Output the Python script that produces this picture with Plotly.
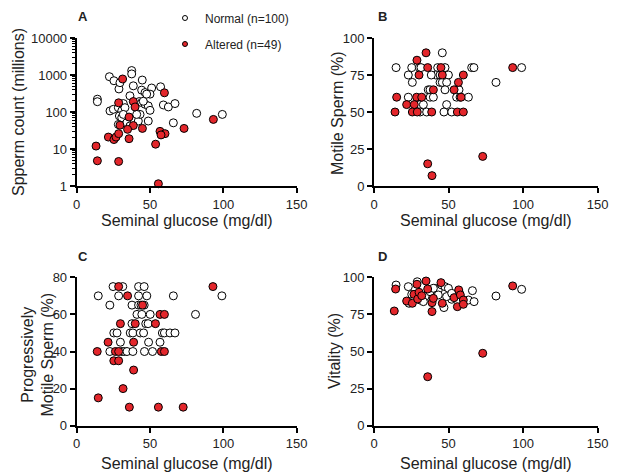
import plotly.graph_objects as go

# Panel A: sperm count (millions), log scale
a_norm_x = [22.3, 25.4, 37.5, 37.5, 44.7, 38.6, 44.3, 46.6, 51.1, 57.2, 14.1, 14.1, 22.7, 25.0,
            28.4, 30.7, 36.3, 42.7, 44.3, 46.6, 48.8, 50.0, 31.8, 32.9, 29.1, 30.7, 31.8, 28.4,
            34.1, 42.0, 48.8, 43.2, 65.9, 59.1, 62.5, 67.0, 81.8, 99.3, 36.3, 40.9, 45.4, 50.0,
            47.7, 28.8, 29.5]
a_norm_y = [900, 700, 1320, 1070, 730, 510, 390, 335, 445, 480, 222, 190, 107, 118,
            131, 107, 274, 192, 180, 162, 146, 111, 169, 131, 78, 70, 86, 46,
            51, 57, 57, 86, 51, 155, 137, 169, 92, 86, 42, 86, 195, 304,
            304, 420, 620]
a_alt_x = [31.3, 59.8, 28.6, 38.6, 39.8, 35.7, 29.5, 38.6, 34.7, 44.8, 56.8, 60.2, 73.2, 93.2,
           21.6, 25.4, 26.8, 28.6, 35.7, 53.8, 13.2, 14.1, 28.6, 55.7, 57.5]
a_alt_y = [780, 330, 177, 192, 137, 73, 44, 43, 34, 36, 30, 26, 36, 63,
           21, 18, 21, 26, 19, 13.5, 12, 4.8, 4.6, 1.15, 24]

# Panel B: motile sperm (%)
b_norm_x = [14.8, 25.3, 30.4, 31.5, 42.7, 47.6, 65.5, 67.0, 99.0, 45.8, 23.0, 41.4, 44.3, 49.9,
            25.7, 44.3, 45.8, 48.7, 81.8, 36.4, 37.6, 47.6, 57.0, 23.0, 37.6, 39.8, 55.4, 57.7,
            63.3, 30.9, 33.1, 48.7, 30.9, 35.3, 46.9, 52.1, 38.4]
b_norm_y = [80, 80, 80, 80, 80, 80, 80, 80, 80, 90, 75, 75, 75, 75,
            70, 70, 70, 70, 70, 65, 65, 65, 65, 60, 60, 60, 60, 60,
            60, 55, 55, 55, 50, 50, 50, 50, 75]
b_alt_x = [34.9, 28.8, 36.0, 44.9, 93.0, 30.2, 45.8, 59.9, 56.6, 39.8, 53.7, 15.2, 28.6, 32.0,
           58.4, 21.9, 27.0, 14.1, 25.7, 29.0, 38.7, 55.9, 59.9, 36.0, 38.9, 72.9]
b_alt_y = [90, 85, 80, 80, 80, 75, 75, 75, 70, 65, 65, 60, 60, 60,
           60, 55, 55, 50, 50, 50, 50, 50, 50, 15, 7, 20]

# Panel C: progressively motile sperm (%)
c_norm_x = [24.8, 31.4, 42.2, 46.0, 14.7, 28.6, 42.2, 47.8, 65.9, 99.0, 22.6, 37.7, 42.2, 43.8,
            46.0, 41.1, 44.4, 50.1, 81.0, 37.7, 47.1, 48.7, 25.3, 27.5, 36.5, 38.3, 43.3, 45.6,
            58.4, 59.8, 63.6, 67.0, 29.8, 49.0, 56.8, 22.6, 30.9, 32.5, 34.3, 38.3, 46.2, 51.7]
c_norm_y = [75, 75, 75, 75, 70, 70, 70, 70, 70, 70, 65, 65, 65, 65,
            65, 60, 60, 60, 60, 55, 55, 55, 50, 50, 50, 50, 50, 50,
            50, 50, 50, 50, 45, 45, 45, 40, 40, 40, 40, 40, 40, 40]
c_alt_x = [28.6, 92.9, 34.7, 44.9, 56.8, 59.8, 29.8, 39.9, 53.7, 21.4, 38.8, 14.0, 26.4, 28.6,
           57.7, 59.8, 25.3, 28.6, 38.8, 31.6, 14.7, 35.9, 55.7, 72.6]
c_alt_y = [75, 75, 70, 65, 60, 60, 55, 55, 55, 45, 45, 40, 40, 40,
           40, 40, 35, 35, 30, 20, 15, 10, 10, 10]

# Panel D: vitality (%)
d_norm_x = [14.8, 23.0, 29.0, 25.3, 27.5, 30.9, 34.2, 37.6, 40.9, 43.1, 45.4, 47.6, 49.9, 52.1,
            46.9, 48.7, 43.1, 39.8, 33.1, 23.5, 63.3, 66.0, 67.1, 81.8, 99.0, 57.0, 52.1]
d_norm_y = [94.8, 93.7, 97.0, 88.5, 85.8, 84.7, 87.0, 90.3, 92.6, 91.5, 94.8, 93.7, 92.6, 85.2,
            79.6, 87.0, 88.1, 92.6, 83.6, 82.5, 84.7, 91.0, 83.6, 87.4, 91.9, 90.3, 89.2]
d_alt_x = [13.6, 14.5, 21.9, 25.7, 26.8, 28.8, 29.3, 30.2, 32.0, 34.9, 36.0, 36.0, 38.9, 38.9,
           39.8, 44.9, 45.8, 53.7, 55.9, 56.8, 57.9, 59.9, 59.9, 72.9, 93.0]
d_alt_y = [77.3, 92.1, 84.0, 82.5, 88.5, 95.3, 85.4, 89.9, 87.6, 97.5, 92.1, 33.0, 82.9, 76.9,
           85.8, 96.4, 82.5, 86.3, 80.2, 91.5, 88.1, 84.7, 81.8, 48.8, 94.2]

RED = "#e3262b"
FONT = "Liberation Sans, Arial, sans-serif"
# the page body has an 8px margin, so the figure is made that much smaller
OFF = 8
W, H = 617 - OFF, 475 - OFF

panels = [
    ("x", "y", a_norm_x, a_norm_y, a_alt_x, a_alt_y),
    ("x2", "y2", b_norm_x, b_norm_y, b_alt_x, b_alt_y),
    ("x3", "y3", c_norm_x, c_norm_y, c_alt_x, c_alt_y),
    ("x4", "y4", d_norm_x, d_norm_y, d_alt_x, d_alt_y),
]

fig = go.Figure()
for xa, ya, nx, ny, ax, ay in panels:
    fig.add_trace(go.Scatter(
        x=nx, y=ny, xaxis=xa, yaxis=ya, mode="markers",
        marker=dict(size=8, color="white", line=dict(color="black", width=1)),
        showlegend=False, cliponaxis=False))
    fig.add_trace(go.Scatter(
        x=ax, y=ay, xaxis=xa, yaxis=ya, mode="markers",
        marker=dict(size=8, color=RED, line=dict(color="black", width=1)),
        showlegend=False, cliponaxis=False))

# legend entries use smaller symbols, like the original
fig.add_trace(go.Scatter(x=[None], y=[None], mode="markers", name="Normal (n=100)",
                         marker=dict(size=5, color="white", line=dict(color="black", width=1)),
                         legend="legend"))
fig.add_trace(go.Scatter(x=[None], y=[None], mode="markers", name="Altered (n=49)",
                         marker=dict(size=5, color=RED, line=dict(color="black", width=1)),
                         legend="legend2"))


def px2x(p):
    return (p - OFF) / W


def px2y(p):
    return 1 - (p - OFF) / H


axis_style = dict(showline=True, linecolor="black", linewidth=2, ticks="outside",
                  ticklen=5, tickwidth=2, tickcolor="black", showgrid=False,
                  zeroline=False, automargin=False,
                  tickfont=dict(size=13, color="#222", family=FONT))

xdomL = [px2x(76.7), px2x(296.7)]
xdomR = [px2x(374), px2x(597.7)]
ydomT = [px2y(186), px2y(38)]
ydomB = [px2y(425.7), px2y(277.3)]

log_minor = [m * 10 ** k for k in range(4) for m in range(2, 10)]

xticks = dict(range=[0, 150], tickvals=[0, 50, 100, 150])
fig.update_layout(
    xaxis=dict(domain=xdomL, anchor="y", **xticks, **axis_style),
    yaxis=dict(domain=ydomT, anchor="x", type="log", range=[0, 4],
               tickvals=[1, 10, 100, 1000, 10000],
               ticktext=["1", "10", "100", "1000", "10000"],
               minor=dict(tickvals=log_minor, ticks="outside", ticklen=3,
                          tickwidth=1, tickcolor="black"),
               **axis_style),
    xaxis2=dict(domain=xdomR, anchor="y2", **xticks, **axis_style),
    yaxis2=dict(domain=ydomT, anchor="x2", range=[0, 100],
                tickvals=[0, 25, 50, 75, 100], **axis_style),
    xaxis3=dict(domain=xdomL, anchor="y3", **xticks, **axis_style),
    yaxis3=dict(domain=ydomB, anchor="x3", range=[0, 80],
                tickvals=[0, 20, 40, 60, 80], **axis_style),
    xaxis4=dict(domain=xdomR, anchor="y4", **xticks, **axis_style),
    yaxis4=dict(domain=ydomB, anchor="x4", range=[0, 100],
                tickvals=[0, 25, 50, 75, 100], **axis_style),
)

leg = dict(font=dict(size=12, color="#222", family=FONT), bgcolor="rgba(0,0,0,0)",
           xanchor="left", yanchor="top", itemwidth=30)
fig.update_layout(
    legend=dict(x=px2x(165), y=px2y(3.5), **leg),
    legend2=dict(x=px2x(165), y=px2y(29.5), **leg),
)

notes = [
    ("A", 83, 16, 0, 13, True), ("B", 382, 16, 0, 13, True),
    ("C", 83, 256, 0, 13, True), ("D", 382, 256, 0, 13, True),
    ("Seminal glucose (mg/dl)", 186.7, 220, 0, 16, False),
    ("Seminal glucose (mg/dl)", 486, 220, 0, 16, False),
    ("Seminal glucose (mg/dl)", 186.7, 463, 0, 16, False),
    ("Seminal glucose (mg/dl)", 486, 463, 0, 16, False),
    ("Spperm count (millions)", 18, 112, -90, 16, False),
    ("Motile Sperm (%)", 337, 113, -90, 16, False),
    ("Progressively<br>Motile Sperm (%)", 37.5, 355, -90, 16, False),
    ("Vitality (%)", 334, 351, -90, 16, False),
]
for text, x, y, ang, size, bold in notes:
    fig.add_annotation(
        text=f"<b>{text}</b>" if bold else text, x=px2x(x), y=px2y(y),
        xref="paper", yref="paper", showarrow=False, textangle=ang,
        xanchor="center", yanchor="middle",
        font=dict(size=size, color="#222", family=FONT))

fig.update_layout(width=W, height=H,
                  margin=dict(l=0, r=0, t=0, b=0, pad=0, autoexpand=False),
                  plot_bgcolor="white", paper_bgcolor="white",
                  font=dict(family=FONT, color="#222"))

fig.write_html("out.html")
